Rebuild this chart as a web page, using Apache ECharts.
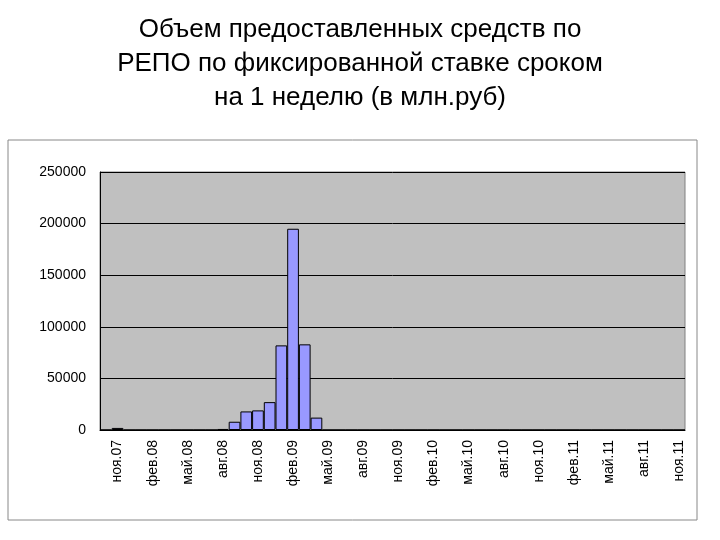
<!DOCTYPE html>
<html><head><meta charset="utf-8">
<script src="https://cdn.jsdelivr.net/npm/echarts@6/dist/echarts.min.js"></script>
<style>body{margin:0;background:#fff}#c{width:720px;height:540px}</style>
</head><body><div id="c"></div>
<script>
// months from окт.07 to ноя.11
var monthNames = ['янв', 'фев', 'мар', 'апр', 'май', 'июн', 'июл', 'авг', 'сен', 'окт', 'ноя', 'дек'];
var months = [];
for (var i = 0; i < 50; i++) {
    var m = (9 + i) % 12, y = 7 + Math.floor((9 + i) / 12);
    months.push(monthNames[m] + '.' + (y < 10 ? '0' + y : y));
}
var volumes = [0, 2000, 0, 0, 0, 0, 0, 0, 0, 0, 1000, 8000, 18000, 19000, 27000, 82000, 195000, 83000, 12000];
while (volumes.length < months.length) volumes.push(0);
var yTicks = [0, 50000, 100000, 150000, 200000, 250000];

var chart = echarts.init(document.getElementById('c'));
chart.setOption({
    animation: false,
    title: {
        text: 'Объем предоставленных средств по\nРЕПО по фиксированной ставке сроком\nна 1 неделю (в млн.руб)',
        left: 'center', top: 8,
        textStyle: {fontFamily: 'Liberation Sans', fontSize: 26, fontWeight: 'normal', color: '#000', lineHeight: 34}
    },
    graphic: [{type: 'rect', shape: {x: 8, y: 140, width: 689, height: 380}, style: {fill: 'none', stroke: '#888', lineWidth: 1}}],
    grid: {left: 100, right: 35, top: 172, bottom: 110, show: true, backgroundColor: '#c0c0c0', borderColor: '#808080', borderWidth: 1},
    xAxis: {
        type: 'category', data: months,
        axisLine: {lineStyle: {color: '#000'}},
        axisTick: {show: false},
        axisLabel: {interval: function (idx) { return idx % 3 === 1; }, rotate: 90, fontFamily: 'Liberation Sans', fontSize: 14, color: '#000', margin: 10}
    },
    yAxis: {
        type: 'value', min: yTicks[0], max: yTicks[yTicks.length - 1], interval: 50000,
        axisLine: {show: true, lineStyle: {color: '#000'}},
        axisTick: {show: false},
        splitLine: {lineStyle: {color: '#000'}},
        axisLabel: {fontFamily: 'Liberation Sans', fontSize: 14, color: '#000', margin: 14, formatter: function (v) { return String(v); }}
    },
    series: [{
        type: 'bar', data: volumes, barCategoryGap: 0,
        itemStyle: {color: '#9999ff', borderColor: '#000', borderWidth: 1}
    }]
});
</script></body></html>
